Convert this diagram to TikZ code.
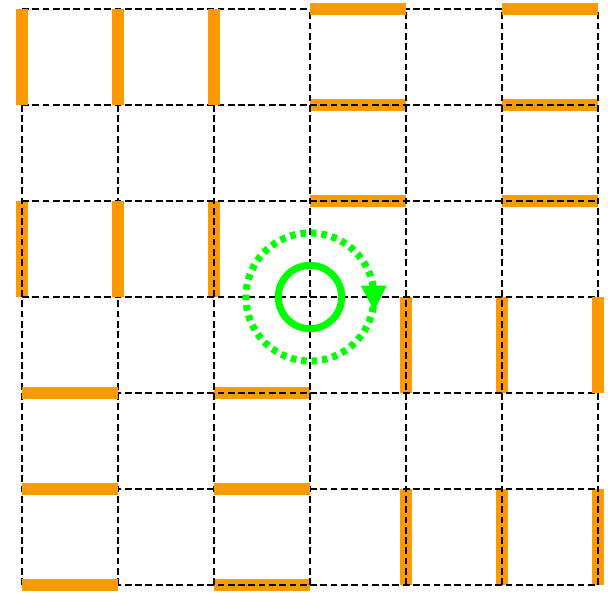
\documentclass[tikz,border=0pt]{standalone}
\usepackage{xcolor}
\usetikzlibrary{arrows.meta}
\definecolor{wallorange}{RGB}{255,153,0}
\definecolor{spingreen}{RGB}{0,255,0}

\begin{document}
\begin{tikzpicture}[
        grid/.style={black, line width=0.7pt, dash pattern=on 2pt off 1.05pt},
        wall/.style={wallorange, line width=3.3pt},
        ring/.style={spingreen, line width=2.1pt},
        orbit/.style={ring, dash pattern=on 1.65pt off 1.45pt}
    ]
    \useasboundingbox (-0.229,-0.073) rectangle (6.104,6.094);
    % Paredes por baixo da grelha
    \foreach \x in {0,2} \draw[wall] (\x,3) -- (\x,4);
    \foreach \y in {4,5} {
        \draw[wall] (3,\y) -- (4,\y);
        \draw[wall] (5,\y) -- (6,\y);
    }
    \foreach \y in {0,2} \draw[wall] (2,\y) -- (3,\y);
    \foreach \x in {4,5} \draw[wall] (\x,2) -- (\x,3);
    \foreach \x in {4,5,6} \draw[wall] (\x,0) -- (\x,1);
    % Grelha tracejada 6x6
    \foreach \k in {0,...,6} {
        \draw[grid] (\k,0) -- (\k,6);
        \draw[grid] (0,\k) -- (6,\k);
    }
    % Paredes por cima da grelha
    \foreach \x in {0,1,2} \draw[wall] (\x,5) -- (\x,6);
    \draw[wall] (1,3) -- (1,4);
    \draw[wall] (3,6) -- (4,6);
    \draw[wall] (5,6) -- (6,6);
    \foreach \y in {0,1,2} \draw[wall] (0,\y) -- (1,\y);
    \draw[wall] (2,1) -- (3,1);
    \draw[wall] (6,2) -- (6,3);
    % Rotação no centro
    \coordinate (centro) at (3,3);
    \draw[ring] (centro) circle (0.33);
    \draw[orbit] (centro) circle (0.667);
    \fill[spingreen] ([shift={(0.53,0.12)}]centro) -- ([shift={(0.80,0.12)}]centro)
        -- ([shift={(0.667,-0.146)}]centro) -- cycle;
\end{tikzpicture}
\end{document}
